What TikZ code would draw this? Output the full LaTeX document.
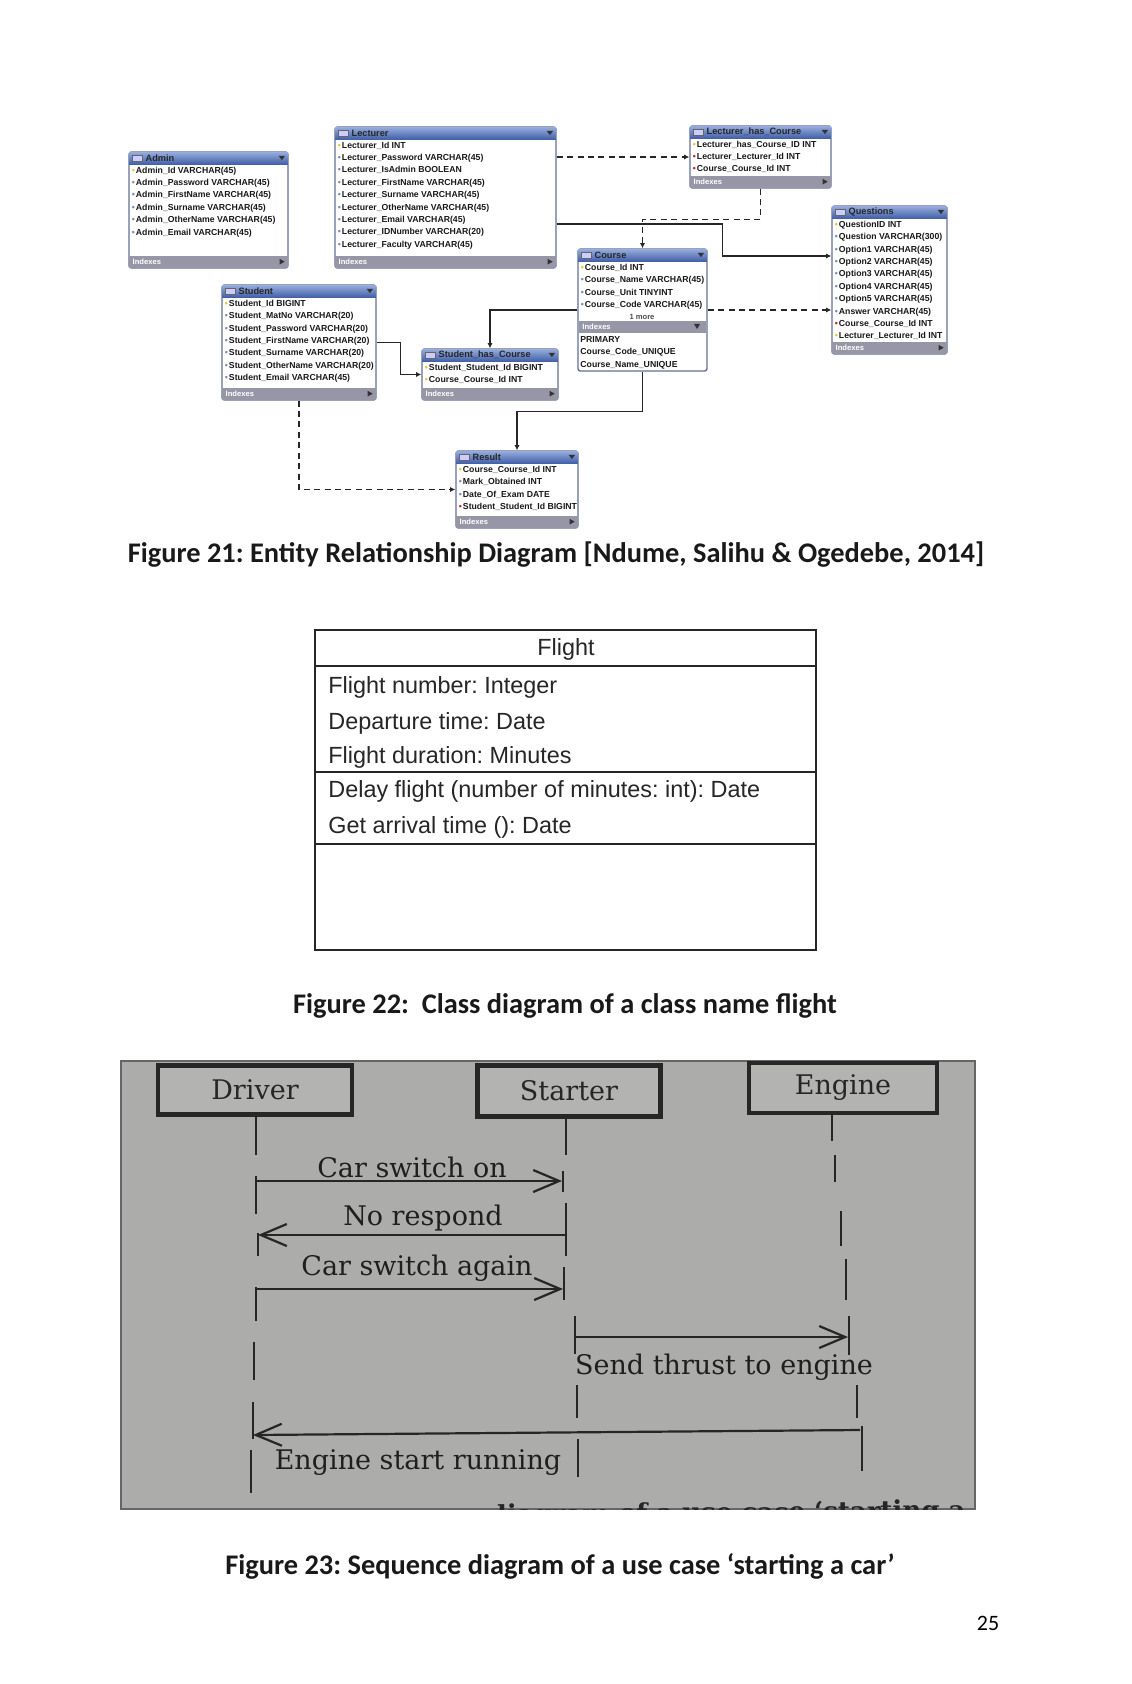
\documentclass[tikz,border=0pt]{standalone}
\usepackage{fontspec}
\setmainfont{Carlito}
\newfontfamily\erfont{Liberation Sans}
\newfontfamily\flfont{Liberation Sans}
\newfontfamily\seqfont{DejaVu Serif}
\usetikzlibrary{arrows.meta,fit,calc}
\frenchspacing
\definecolor{hdrblue}{RGB}{66,96,168}
\definecolor{hdrlight}{RGB}{150,172,220}
\definecolor{ftrgray}{RGB}{150,150,166}
\definecolor{boxedge}{RGB}{100,112,150}
\definecolor{seqbg}{RGB}{172,173,170}
\definecolor{keyyel}{RGB}{225,200,40}
\definecolor{fkred}{RGB}{190,40,40}
\definecolor{atblue}{RGB}{120,140,190}
\newcommand\erpk{{\color{keyyel}\textbullet}\kern0.5pt}
\newcommand\erfk{{\color{fkred}\textbullet}\kern0.5pt}
\newcommand\erat{{\color{atblue}\textbullet}\kern0.5pt}
\tikzset{
 erbox/.style={draw=boxedge,line width=0.7pt,fill=white,inner sep=0pt,rounded corners=1.2pt},
 hdrtxt/.style={font=\erfont\bfseries\fontsize{4.6}{5}\selectfont,text=black!85,inner sep=0pt},
 fttxt/.style={font=\erfont\bfseries\fontsize{3.8}{4}\selectfont,text=white,inner sep=0pt},
 rowtxt/.style={font=\erfont\bfseries\fontsize{4.35}{6.2}\selectfont,align=left,inner sep=0pt,text=black!90},
 erlink/.style={line width=0.75pt,draw=black!85},
 erdash/.style={erlink,dash pattern=on 3pt off 2.2pt},
 erend/.style={-{Latex[length=2.6pt,width=2.6pt]}},
 umlbox/.style={draw=black!85,line width=0.6pt,inner sep=0pt},
 umlline/.style={draw=black!85,line width=0.6pt},
 umltxt/.style={font=\flfont\fontsize{11.7}{13}\selectfont,text=black!85,inner sep=0pt},
 captxt/.style={font=\bfseries\fontsize{14.2}{16}\selectfont,inner sep=0pt,text=black!90},
 seqbox/.style={draw=black!85,line width=2.2pt,fill=seqbg!92!white,inner sep=0pt,font=\seqfont\fontsize{13.5}{15}\selectfont,text=black!85},
 seqtxt/.style={font=\seqfont\fontsize{13.5}{15}\selectfont,text=black!88,inner sep=0pt},
 lifeln/.style={line width=1.1pt,draw=black!85},
 msg/.style={line width=1.1pt,draw=black!85,-{Straight Barb[length=13pt,width=11pt,line width=1.1pt]}},
}
% table: name, x1, y1, x2, y2, title
\newcommand\ertab[6]{%
  \coordinate (#1-a) at (#2,#3);
  \coordinate (#1-b) at (#4,#5);
  \node[erbox, fit=(#1-a)(#1-b)] (#1) {};
  \shade[top color=hdrlight,bottom color=hdrblue] ([xshift=0.4pt,yshift=-0.4pt]#1.north west) rectangle ([xshift=-0.4pt,yshift=-6.5pt]#1.north east);
  \fill[white!80!blue,draw=black!60,line width=0.2pt] ([xshift=2pt,yshift=-1.8pt]#1.north west) rectangle ([xshift=7pt,yshift=-5pt]#1.north west);
  \node[hdrtxt,anchor=west] (#1-t) at ([xshift=8.5pt,yshift=-3.4pt]#1.north west) {#6};
  \fill[black!80] ([xshift=-5pt,yshift=-2.3pt]#1.north east) -- ([xshift=-1.8pt,yshift=-2.3pt]#1.north east) -- ([xshift=-3.4pt,yshift=-4.4pt]#1.north east) -- cycle;
}
\newcommand\erfoot[1]{%
  \fill[ftrgray] ([xshift=0.4pt,yshift=6.5pt]#1.south west) rectangle ([xshift=-0.4pt,yshift=0.4pt]#1.south east);
  \node[fttxt,anchor=west] (#1-f) at ([xshift=2pt,yshift=3.4pt]#1.south west) {Indexes};
  \fill[black!80] ([xshift=-4.5pt,yshift=4.9pt]#1.south east) -- ([xshift=-2pt,yshift=3.5pt]#1.south east) -- ([xshift=-4.5pt,yshift=2.1pt]#1.south east) -- cycle;
}
\newcommand\errows[2]{%
  \node[rowtxt,anchor=north west] (#1-r) at ([xshift=1.6pt,yshift=-7.6pt]#1.north west) {#2};
}
\begin{document}
\begin{tikzpicture}[x=0.5pt,y=-0.5pt]
\useasboundingbox (0,0) rectangle (1131,1684);
\fill[white] (0,0) rectangle (1131,1684);

% ================= Figure 21 : ER diagram =================
\ertab{admin}{129}{152}{288}{268}{Admin}
\errows{admin}{\erpk Admin\_Id VARCHAR(45)\\ \erat Admin\_Password VARCHAR(45)\\ \erat Admin\_FirstName VARCHAR(45)\\ \erat Admin\_Surname VARCHAR(45)\\ \erat Admin\_OtherName VARCHAR(45)\\ \erat Admin\_Email VARCHAR(45)}
\erfoot{admin}

\ertab{lect}{335}{127}{556}{268}{Lecturer}
\errows{lect}{\erpk Lecturer\_Id INT\\ \erat Lecturer\_Password VARCHAR(45)\\ \erat Lecturer\_IsAdmin BOOLEAN\\ \erat Lecturer\_FirstName VARCHAR(45)\\ \erat Lecturer\_Surname VARCHAR(45)\\ \erat Lecturer\_OtherName VARCHAR(45)\\ \erat Lecturer\_Email VARCHAR(45)\\ \erat Lecturer\_IDNumber VARCHAR(20)\\ \erat Lecturer\_Faculty VARCHAR(45)}
\erfoot{lect}

\ertab{lhc}{690}{126}{831}{188}{Lecturer\_has\_Course}
\errows{lhc}{\erpk Lecturer\_has\_Course\_ID INT\\ \erfk Lecturer\_Lecturer\_Id INT\\ \erfk Course\_Course\_Id INT}
\erfoot{lhc}

\ertab{quest}{832}{206}{947}{354}{Questions}
\errows{quest}{\erpk QuestionID INT\\ \erat Question VARCHAR(300)\\ \erat Option1 VARCHAR(45)\\ \erat Option2 VARCHAR(45)\\ \erat Option3 VARCHAR(45)\\ \erat Option4 VARCHAR(45)\\ \erat Option5 VARCHAR(45)\\ \erat Answer VARCHAR(45)\\ \erfk Course\_Course\_Id INT\\ \erpk Lecturer\_Lecturer\_Id INT}
\erfoot{quest}

\ertab{stud}{222}{285}{376}{400}{Student}
\errows{stud}{\erpk Student\_Id BIGINT\\ \erat Student\_MatNo VARCHAR(20)\\ \erat Student\_Password VARCHAR(20)\\ \erat Student\_FirstName VARCHAR(20)\\ \erat Student\_Surname VARCHAR(20)\\ \erat Student\_OtherName VARCHAR(20)\\ \erat Student\_Email VARCHAR(45)}
\erfoot{stud}

\ertab{course}{578}{249}{707}{371}{Course}
\errows{course}{\erpk Course\_Id INT\\ \erat Course\_Name VARCHAR(45)\\ \erat Course\_Unit TINYINT\\ \erat Course\_Code VARCHAR(45)}
\node[fttxt,text=black!70] (course-more) at (642,317) {1 more};
\fill[ftrgray] (578.8,321) rectangle (706.2,333);
\node[fttxt,anchor=west] (course-ix) at (582,327) {Indexes};
\fill[black!80] (694,324) -- (700,324) -- (697,329) -- cycle;
\node[rowtxt,anchor=north west] (course-ixr) at (580,336) {PRIMARY\\ Course\_Code\_UNIQUE\\ Course\_Name\_UNIQUE};

\ertab{shc}{422}{349}{558}{400}{Student\_has\_Course}
\errows{shc}{\erpk Student\_Student\_Id BIGINT\\ \erpk Course\_Course\_Id INT}
\erfoot{shc}

\ertab{result}{456}{451}{578}{528}{Result}
\errows{result}{\erpk Course\_Course\_Id INT\\ \erat Mark\_Obtained INT\\ \erat Date\_Of\_Exam DATE\\ \erfk Student\_Student\_Id BIGINT}
\erfoot{result}

% ER connectors
\draw[erdash,erend] (lect.east |- lhc.west) -- (lhc.west);
\draw[erlink,erend] ([yshift=-13.25pt]lect.east) -- ++(166,0) -- ++(0,32) -- ([yshift=12pt]quest.west);
\draw[erdash,erend] (lhc.south) -- ++(0,31) -| (course.north);
\draw[erdash,erend] (course.east) -- (course.east -| quest.west);
\draw[erlink,erend] (course.west) -| (shc.north);
\draw[erlink,erend] (stud.east) -- ++(24,0) |- (shc.west);
\draw[erlink,erend] (course.south) -- ++(0,40) -| (result.north);
\draw[erdash,erend] (stud.south) |- (result.west);

\node[captxt] (cap21) at (556,555) {Figure 21: Entity Relationship Diagram [Ndume, Salihu \& Ogedebe, 2014]};

% ================= Figure 22 : class diagram =================
\coordinate (fl-a) at (315,630);
\coordinate (fl-b) at (816,950);
\node[umlbox,fit=(fl-a)(fl-b)] (flight) {};
\draw[umlline] (315,666) -- (816,666);
\draw[umlline] (315,772) -- (816,772);
\draw[umlline] (315,844) -- (816,844);
\node[umltxt] (fl-name) at (566,649) {Flight};
\node[umltxt,anchor=west] (fl-a1) at (328,687) {Flight number: Integer};
\node[umltxt,anchor=west] (fl-a2) at (328,723) {Departure time: Date};
\node[umltxt,anchor=west] (fl-a3) at (328,757) {Flight duration: Minutes};
\node[umltxt,anchor=west] (fl-o1) at (328,791) {Delay flight (number of minutes: int): Date};
\node[umltxt,anchor=west] (fl-o2) at (328,827) {Get arrival time (): Date};

\node[captxt] (cap22) at (565,1006) {Figure 22:\ \ Class diagram of a class name flight};

% ================= Figure 23 : sequence diagram =================
\coordinate (sq-a) at (121,1061);
\coordinate (sq-b) at (975,1509);
\node[fill=seqbg,draw=black!60,line width=0.8pt,inner sep=0pt,fit=(sq-a)(sq-b)] (seqbg) {};
\begin{scope}
\clip (121,1061) rectangle (975,1509);
\node[font=\seqfont\bfseries\fontsize{13}{15}\selectfont,text=black!85,anchor=base east,inner sep=0pt,rotate=0.6] (cutcap) at (966,1519) {diagram of a use case ‘starting a};
\end{scope}

\node[seqbox,minimum width=97pt,minimum height=24.5pt] (drv) at (255,1090) {Driver};
\node[seqbox,minimum width=91.5pt,minimum height=25.5pt] (sta) at (569,1091) {Starter};
\node[seqbox,minimum width=94pt,minimum height=25pt] (eng) at (843,1088) {Engine};

% lifelines
\draw[lifeln] ([xshift=0.5pt]drv.south) -- (256,1155);
\foreach \x/\a/\b in {256/1176/1214, 258/1233/1256, 256/1287/1321, 254/1342/1380, 253/1402/1439, 251/1450/1493}
  \draw[lifeln] (\x,\a) -- (\x,\b);
\draw[lifeln] ([xshift=-1.5pt]sta.south) -- (566,1155);
\foreach \x/\a/\b in {563/1171/1192, 566/1203/1256, 564/1267/1300, 575/1316/1354, 577/1385/1418, 578/1439/1477}
  \draw[lifeln] (\x,\a) -- (\x,\b);
\draw[lifeln] ([xshift=-5.5pt]eng.south) -- (832,1141);
\foreach \x/\a/\b in {835/1155/1182, 841/1211/1246, 846/1259/1300, 849/1316/1355, 857/1385/1418, 862/1426/1471}
  \draw[lifeln] (\x,\a) -- (\x,\b);

% messages
\coordinate (m1s) at (256,1181); \coordinate (m1e) at (562,1181);
\coordinate (m2s) at (567,1235); \coordinate (m2e) at (258,1235);
\coordinate (m3s) at (256,1289); \coordinate (m3e) at (563,1289);
\coordinate (m4s) at (575,1337); \coordinate (m4e) at (848,1337);
\coordinate (m5s) at (860,1430); \coordinate (m5e) at (253,1435);
\draw[msg] (m1s) -- (m1e);
\draw[msg] (m2s) -- (m2e);
\draw[msg] (m3s) -- (m3e);
\draw[msg] (m4s) -- (m4e);
\draw[msg] (m5s) -- (m5e);
\node[seqtxt] (l1) at (412,1167) {Car switch on};
\node[seqtxt] (l2) at (423,1218) {No respond};
\node[seqtxt] (l3) at (417,1268) {Car switch again};
\node[seqtxt] (l4) at (724,1367) {Send thrust to engine};
\node[seqtxt] (l5) at (418,1463) {Engine start running};

\node[captxt] (cap23) at (560,1566) {Figure 23: Sequence diagram of a use case ‘starting a car’};
\node[font=\fontsize{11}{13}\selectfont,inner sep=0pt] (pgno) at (988,1623) {25};
\end{tikzpicture}
\end{document}
